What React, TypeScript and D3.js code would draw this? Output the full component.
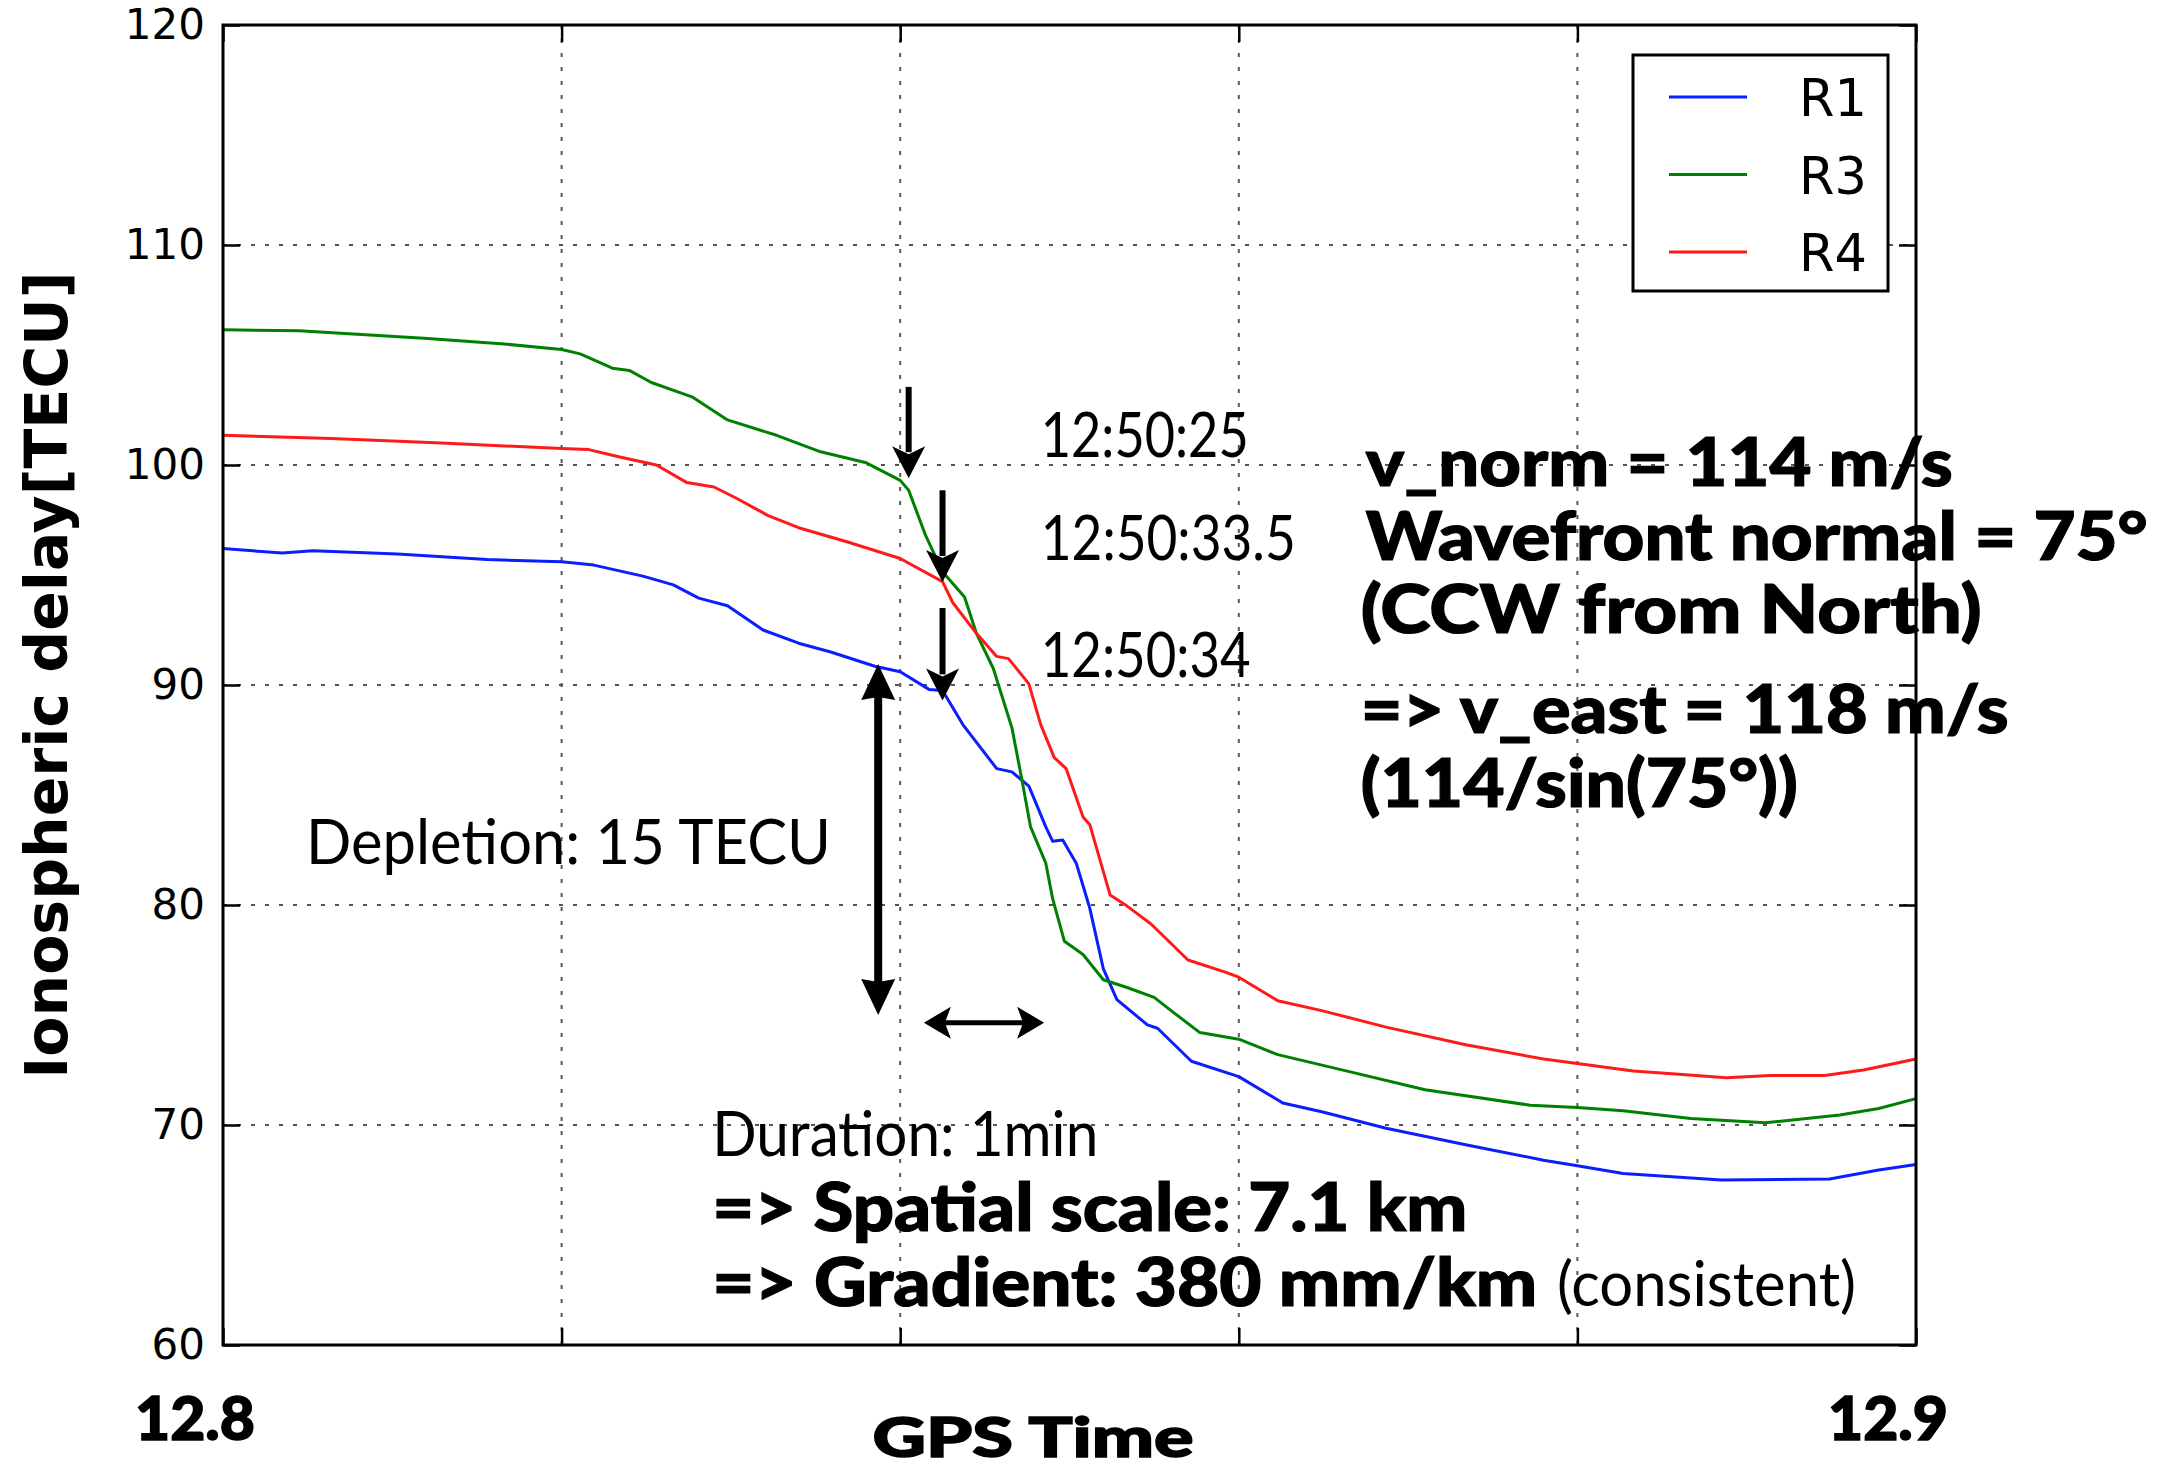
import React, { useEffect, useRef } from 'react';
import * as d3 from 'd3';

const W = 2161;
const H = 1468;

// [GPS time (h), ionospheric delay (TECU)]
const R1 = [
  [12.8, 96.2], [12.8035, 96.0], [12.8053, 96.1], [12.8103, 95.95], [12.8156, 95.7],
  [12.82, 95.6], [12.8219, 95.45], [12.8248, 94.95], [12.8266, 94.55], [12.8281, 93.95],
  [12.8298, 93.6], [12.8319, 92.5], [12.834, 91.9], [12.8359, 91.5], [12.8385, 90.85],
  [12.84, 90.6], [12.8417, 89.8], [12.8425, 89.75], [12.8437, 88.2], [12.8457, 86.2],
  [12.8466, 86.05], [12.8476, 85.4], [12.8486, 83.55], [12.849, 82.9], [12.8496, 82.95],
  [12.8504, 81.9], [12.8512, 79.85], [12.852, 77.1], [12.8528, 75.7], [12.8546, 74.55],
  [12.8552, 74.4], [12.8572, 72.9], [12.86, 72.2], [12.8626, 71.0], [12.8649, 70.6],
  [12.8687, 69.85], [12.8734, 69.1], [12.878, 68.4], [12.88, 68.15], [12.8827, 67.8],
  [12.8885, 67.5], [12.8949, 67.55], [12.8978, 67.95], [12.9, 68.2],
];

const R3 = [
  [12.8, 106.15], [12.8045, 106.1], [12.8121, 105.75], [12.8166, 105.5], [12.82, 105.25],
  [12.8211, 105.05], [12.823, 104.4], [12.824, 104.3], [12.8253, 103.75], [12.8277, 103.1],
  [12.8298, 102.05], [12.8327, 101.35], [12.8353, 100.6], [12.838, 100.1], [12.84, 99.3],
  [12.8405, 98.85], [12.8415, 96.8], [12.8425, 95.15], [12.8438, 94.0], [12.8445, 92.35],
  [12.8455, 90.75], [12.8466, 88.05], [12.8472, 85.65], [12.8477, 83.55], [12.8486, 81.9],
  [12.849, 80.3], [12.8497, 78.35], [12.8508, 77.75], [12.852, 76.6], [12.8534, 76.25],
  [12.855, 75.8], [12.856, 75.2], [12.8577, 74.2], [12.86, 73.9], [12.8623, 73.2],
  [12.8664, 72.45], [12.871, 71.6], [12.8772, 70.9], [12.88, 70.8], [12.8827, 70.65],
  [12.8867, 70.3], [12.8911, 70.1], [12.8955, 70.45], [12.8978, 70.75], [12.9, 71.2],
];

const R4 = [
  [12.8, 101.35], [12.8064, 101.2], [12.8129, 101.0], [12.82, 100.75], [12.8216, 100.7],
  [12.8235, 100.35], [12.8256, 100.0], [12.8274, 99.2], [12.829, 99.0], [12.8303, 98.5],
  [12.8322, 97.7], [12.834, 97.15], [12.8369, 96.5], [12.84, 95.75], [12.8425, 94.7],
  [12.8431, 93.75], [12.8445, 92.35], [12.8457, 91.3], [12.8464, 91.2], [12.8476, 90.05],
  [12.8483, 88.2], [12.8491, 86.7], [12.8498, 86.2], [12.8508, 84.0], [12.8512, 83.65],
  [12.8524, 80.45], [12.8534, 79.95], [12.8548, 79.15], [12.857, 77.5], [12.8592, 76.95],
  [12.86, 76.72], [12.8623, 75.65], [12.8649, 75.2], [12.8687, 74.45], [12.8734, 73.65],
  [12.878, 73.0], [12.88, 72.8], [12.8833, 72.45], [12.8862, 72.3], [12.8888, 72.15],
  [12.8914, 72.25], [12.8946, 72.25], [12.8969, 72.5], [12.9, 73.0],
];

const seriesNames = ['R1', 'R3', 'R4'];
const seriesColors = ['#0a1eff', '#008000', '#ff1a1a'];
const yTicks = [60, 70, 80, 90, 100, 110, 120];
const xTicks = [12.8, 12.82, 12.84, 12.86, 12.88, 12.9];
const xLabels = [12.8, 12.9];

// onset arrows: time, from, to (TECU)
const onsetArrows = [
  [12.8405, 103.55, 99.4],
  [12.8425, 98.85, 94.68],
  [12.8425, 93.5, 89.3],
];

const timeNotes = [
  { text: '12:50:25', t: 12.8483, v: 100.37, w: 208 },
  { text: '12:50:33.5', t: 12.8483, v: 95.67, w: 255 },
  { text: '12:50:34', t: 12.8483, v: 90.36, w: 210 },
  { text: 'Depletion: 15 TECU', t: 12.8049, v: 81.85, w: 525 },
  { text: 'Duration: 1min', t: 12.8289, v: 68.57, w: 386 },
  { text: '(consistent)', t: 12.8788, v: 61.79, w: 299 },
];

const boldNotes = [
  { text: 'v_norm = 114 m/s', t: 12.8675, v: 99.04, w: 587 },
  { text: 'Wavefront normal = 75°', t: 12.8675, v: 95.67, w: 782 },
  { text: '(CCW from North)', t: 12.8672, v: 92.35, w: 621 },
  { text: '=> v_east = 118 m/s', t: 12.8672, v: 87.8, w: 648 },
  { text: '(114/sin(75°))', t: 12.8672, v: 84.44, w: 437 },
  { text: '=> Spatial scale: 7.1 km', t: 12.8289, v: 65.2, w: 755 },
  { text: '=> Gradient: 380 mm/km', t: 12.8289, v: 61.79, w: 825 },
];

const depletion = { t: 12.8387, from: 90.95, to: 75.0 };
const duration = { from: 12.8414, to: 12.8485, v: 74.65 };

const GILL = 'Lato, "Open Sans", sans-serif';

function head(tx, ty, dx, dy, len, wid, notch) {
  const px = -dy, py = dx;
  const bx = tx - dx * len, by = ty - dy * len;
  const nx = tx - dx * (len - notch), ny = ty - dy * (len - notch);
  return `M${tx},${ty}L${bx + px * wid / 2},${by + py * wid / 2}L${nx},${ny}L${bx - px * wid / 2},${by - py * wid / 2}Z`;
}

const App = () => {
  const ref = useRef(null);

  useEffect(() => {
    const svg = d3.select(ref.current);
    svg.selectAll('*').remove();

    const left = 223, right = 1916, top = 25, bottom = 1345;
    const x = d3.scaleLinear().domain([12.8, 12.9]).range([left, right]);
    const y = d3.scaleLinear().domain([60, 120]).range([bottom, top]);

    svg.append('rect').attr('width', W).attr('height', H).attr('fill', '#fff');

    // grid
    const grid = svg.append('g').attr('stroke', '#555').attr('stroke-width', 2).attr('stroke-dasharray', '4,10');
    grid.selectAll('.gx').data(xTicks.slice(1, -1)).join('line')
      .attr('x1', d => x(d)).attr('x2', d => x(d)).attr('y1', top).attr('y2', bottom);
    grid.selectAll('.gy').data(yTicks.slice(1, -1)).join('line')
      .attr('y1', d => y(d)).attr('y2', d => y(d)).attr('x1', left).attr('x2', right);

    // ticks (inward) and labels
    const styleAxis = g => {
      g.select('.domain').remove();
      g.selectAll('line').attr('stroke', '#000').attr('stroke-width', 2.5);
    };
    svg.append('g').attr('transform', `translate(${left},0)`)
      .call(d3.axisLeft(y).tickValues(yTicks).tickSize(-17).tickPadding(18).tickFormat(d3.format('d')))
      .call(styleAxis)
      .call(g => g.selectAll('text').attr('font-family', '"DejaVu Sans", sans-serif').attr('font-size', 42).attr('fill', '#000'));
    svg.append('g').attr('transform', `translate(${right},0)`)
      .call(d3.axisRight(y).tickValues(yTicks).tickSize(-17).tickFormat(() => ''))
      .call(styleAxis);
    svg.append('g').attr('transform', `translate(0,${top})`)
      .call(d3.axisTop(x).tickValues(xTicks).tickSize(-17).tickFormat(() => ''))
      .call(styleAxis);
    svg.append('g').attr('transform', `translate(0,${bottom})`)
      .call(d3.axisBottom(x).tickValues(xTicks).tickSize(-17).tickFormat(() => ''))
      .call(styleAxis);

    // data lines
    const line = d3.line().x(d => x(d[0])).y(d => y(d[1]));
    [R1, R3, R4].forEach((s, i) => {
      svg.append('path').datum(s)
        .attr('fill', 'none').attr('stroke', seriesColors[i]).attr('stroke-width', 3)
        .attr('stroke-linejoin', 'round').attr('d', line);
    });

    // frame
    svg.append('rect').attr('x', left).attr('y', top).attr('width', right - left).attr('height', bottom - top)
      .attr('fill', 'none').attr('stroke', '#000').attr('stroke-width', 3);

    // legend
    const lg = svg.append('g').attr('transform', `translate(${right - 283},${top + 30})`);
    lg.append('rect').attr('width', 255).attr('height', 236).attr('fill', '#fff').attr('stroke', '#000').attr('stroke-width', 3);
    seriesNames.forEach((n, i) => {
      const ly = 42 + i * 77.5;
      lg.append('line').attr('x1', 36).attr('x2', 114).attr('y1', ly).attr('y2', ly)
        .attr('stroke', seriesColors[i]).attr('stroke-width', 3);
      lg.append('text').attr('x', 166).attr('y', ly + 19).text(n)
        .attr('font-family', '"DejaVu Sans", sans-serif').attr('font-size', 51);
    });

    // axis titles
    svg.append('text').attr('transform', `translate(67,${(top + bottom) / 2 - 10}) rotate(-90)`)
      .attr('text-anchor', 'middle').attr('font-family', '"DejaVu Sans", sans-serif')
      .attr('font-weight', 'bold').attr('font-size', 58.5).text('Ionospheric delay[TECU]');
    svg.append('text').attr('x', 1033).attr('y', 1457).attr('text-anchor', 'middle')
      .attr('font-family', GILL).attr('font-weight', 900).attr('font-size', 56)
      .attr('stroke', '#000').attr('stroke-width', 1.5)
      .attr('textLength', 321).attr('lengthAdjust', 'spacingAndGlyphs').text('GPS Time');
    svg.selectAll('.xl').data(xLabels).join('text')
      .attr('x', d => x(d) - 28).attr('y', 1440).attr('text-anchor', 'middle')
      .attr('font-family', GILL).attr('font-weight', 900).attr('font-size', 61)
      .attr('stroke', '#000').attr('stroke-width', 1.5)
      .attr('textLength', 120).attr('lengthAdjust', 'spacingAndGlyphs').text(d => d3.format('.1f')(d));

    // annotation texts
    timeNotes.forEach(n => {
      svg.append('text').attr('x', x(n.t)).attr('y', y(n.v)).text(n.text)
        .attr('font-family', GILL).attr('font-size', 61)
        .attr('textLength', n.w).attr('lengthAdjust', 'spacingAndGlyphs');
    });
    boldNotes.forEach(n => {
      svg.append('text').attr('x', x(n.t)).attr('y', y(n.v)).text(n.text)
        .attr('font-family', GILL).attr('font-weight', 900).attr('font-size', 67)
        .attr('stroke', '#000').attr('stroke-width', 1.2)
        .attr('textLength', n.w).attr('lengthAdjust', 'spacingAndGlyphs');
    });

    // arrows
    const ar = svg.append('g').attr('fill', '#000').attr('stroke', '#000');
    onsetArrows.forEach(([t, v0, v1]) => {
      const ax = x(t), y0 = y(v0), y1 = y(v1);
      ar.append('line').attr('x1', ax).attr('x2', ax).attr('y1', y0).attr('y2', y1 - 26).attr('stroke-width', 6);
      ar.append('path').attr('stroke', 'none').attr('d', head(ax, y1, 0, 1, 32, 33, 8));
    });
    {
      const ax = x(depletion.t), y0 = y(depletion.from), y1 = y(depletion.to);
      ar.append('line').attr('x1', ax).attr('x2', ax).attr('y1', y0 + 30).attr('y2', y1 - 30).attr('stroke-width', 8);
      ar.append('path').attr('stroke', 'none').attr('d', head(ax, y0, 0, -1, 36, 34, 3));
      ar.append('path').attr('stroke', 'none').attr('d', head(ax, y1, 0, 1, 36, 34, 3));
    }
    {
      const x0 = x(duration.from), x1 = x(duration.to), ay = y(duration.v);
      ar.append('line').attr('x1', x0 + 20).attr('x2', x1 - 20).attr('y1', ay).attr('y2', ay).attr('stroke-width', 5);
      ar.append('path').attr('stroke', 'none').attr('d', head(x0, ay, -1, 0, 27, 32, 6));
      ar.append('path').attr('stroke', 'none').attr('d', head(x1, ay, 1, 0, 27, 32, 6));
    }
  }, []);

  return (
    <svg ref={ref} width={W} height={H} style={{ position: 'absolute', left: 0, top: 0 }}></svg>
  );
};

export default App;
